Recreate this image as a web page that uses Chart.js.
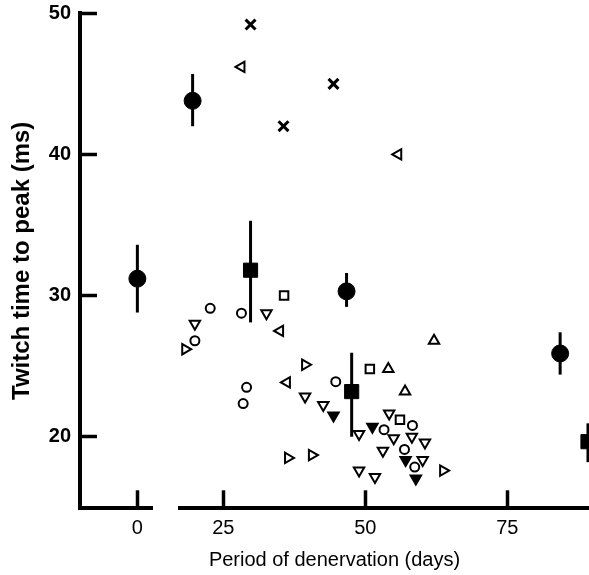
<!DOCTYPE html>
<html lang="en">
<head>
<meta charset="UTF-8">
<title>Twitch time to peak</title>
<script src="https://cdn.jsdelivr.net/npm/chart.js@4.4.7/dist/chart.umd.min.js"></script>
<style>
  * { margin: 0; padding: 0; }
  html, body { width: 589px; height: 575px; background: #fff; overflow: hidden; }
  canvas { display: block; }
</style>
</head>
<body>
<canvas id="chart" width="589" height="575"></canvas>
<script>
// axis ticks
const xTicksLeft = [0];
const xTicksRight = [25, 50, 75];
const yTicks = [20, 30, 40, 50];

// control (day 0) mean +/- bar
const controlDays = [0];
const controlMs = [31.2];
const controlLo = [28.8];
const controlHi = [33.6];

// filled circles, mean +/- bar
const meanCircleDays = [19.6, 46.7, 84.3];
const meanCircleMs = [43.8, 30.3, 25.9];
const meanCircleLo = [42.0, 29.2, 24.4];
const meanCircleHi = [45.7, 31.6, 27.4];

// filled squares, mean +/- bar
const meanSquareDays = [29.8, 47.6, 89.2];
const meanSquareMs = [31.8, 23.2, 19.65];
const meanSquareLo = [28.1, 20.0, 18.2];
const meanSquareHi = [35.3, 25.95, 20.95];

// single muscles
const crossDays = [29.8, 35.6, 44.4];
const crossMs = [49.2, 42.0, 45.0];

const leftTriDays = [28.2, 55.8, 35.0, 36.2];
const leftTriMs = [46.2, 40.0, 27.5, 23.85];

const rightTriDays = [18.3, 39.4, 36.4, 40.6, 63.7];
const rightTriMs = [26.2, 25.1, 18.5, 18.7, 17.6];

const openCircleDays = [22.7, 28.2, 20.0, 29.1, 28.5, 44.8, 58.3, 53.3, 56.9, 58.7];
const openCircleMs = [29.1, 28.75, 26.8, 23.5, 22.35, 23.9, 20.8, 20.5, 19.1, 17.85];

const downTriDays = [20.0, 32.6, 39.4, 42.6, 54.2, 48.9, 55.0, 58.2, 60.5, 53.1, 60.1, 48.9, 51.7];
const downTriMs = [28.0, 28.75, 22.85, 22.25, 21.65, 20.2, 19.9, 20.0, 19.6, 19.0, 18.35, 17.6, 17.15];

const filledDownDays = [44.4, 51.25, 57.1, 58.9];
const filledDownMs = [21.5, 20.7, 18.35, 17.05];

const openSquareDays = [35.7, 50.8, 56.1];
const openSquareMs = [30.0, 24.8, 21.2];

const upTriDays = [62.1, 54.05, 57.0];
const upTriMs = [26.8, 24.8, 23.2];

const FONT = "'Liberation Sans', Arial, Helvetica, sans-serif";
Chart.defaults.color = '#000';
Chart.defaults.font.family = FONT;

const pts = (xs, ys) => xs.map((x, i) => ({ x: x, y: ys[i] }));

function bars(xs, lo, hi, axis) {
  return xs.map((x, i) => ({
    type: 'scatter',
    data: [{ x: x, y: lo[i] }, { x: x, y: hi[i] }],
    showLine: true,
    borderColor: '#000',
    borderWidth: 3,
    pointRadius: 0,
    xAxisID: axis,
    clip: false,
  }));
}

function marks(xs, ys, style, radius, opts) {
  return Object.assign({
    type: 'scatter',
    data: pts(xs, ys),
    pointStyle: style,
    pointRadius: radius,
    pointHoverRadius: radius,
    pointBorderWidth: 2,
    pointBorderColor: '#000',
    pointBackgroundColor: '#fff',
    xAxisID: 'x',
    clip: false,
  }, opts || {});
}

const datasets = [
  ...bars(controlDays, controlLo, controlHi, 'x0'),
  ...bars(meanCircleDays, meanCircleLo, meanCircleHi, 'x'),
  ...bars(meanSquareDays, meanSquareLo, meanSquareHi, 'x'),
  marks(controlDays, controlMs, 'circle', 8.5, { xAxisID: 'x0', pointBackgroundColor: '#000', pointBorderWidth: 1 }),
  marks(meanCircleDays, meanCircleMs, 'circle', 8.5, { pointBackgroundColor: '#000', pointBorderWidth: 1 }),
  marks(meanSquareDays, meanSquareMs, 'rect', 10, { pointBackgroundColor: '#000', pointBorderWidth: 1 }),
  marks(crossDays, crossMs, 'crossRot', 7, { pointBorderWidth: 3 }),
  marks(leftTriDays, leftTriMs, 'triangle', 6, { pointRotation: 270 }),
  marks(rightTriDays, rightTriMs, 'triangle', 6, { pointRotation: 90 }),
  marks(openCircleDays, openCircleMs, 'circle', 4.5),
  marks(downTriDays, downTriMs, 'triangle', 6, { pointRotation: 180 }),
  marks(filledDownDays, filledDownMs, 'triangle', 6, { pointRotation: 180, pointBackgroundColor: '#000' }),
  marks(openSquareDays, openSquareMs, 'rect', 6),
  marks(upTriDays, upTriMs, 'triangle', 6),
];

const border = { display: true, color: '#000', width: 4 };
const inward = (len) => ({
  display: true, drawOnChartArea: false, drawTicks: true,
  tickLength: -len, tickColor: '#000', tickWidth: 3.5,
});
const fixTicks = (list) => (s) => { s.ticks = list.map(v => ({ value: v })); };
const fixX = (s) => { s.height = 36; s.paddingLeft = s.paddingRight = s.paddingTop = s.paddingBottom = 0; };
const xTickFont = { size: 20, family: FONT };

new Chart(document.getElementById('chart'), {
  type: 'scatter',
  data: { datasets: datasets },
  options: {
    responsive: false,
    animation: false,
    events: [],
    layout: { autoPadding: false, padding: { top: 13.3, left: 0, right: 0, bottom: 0 } },
    plugins: {
      legend: { display: false },
      tooltip: { enabled: false },
      title: {
        display: true,
        text: 'Period of denervation (days)',
        position: 'bottom',
        fullSize: false,
        align: 'center',
        color: '#000',
        font: { size: 20, weight: 'normal', family: FONT },
        padding: { top: 3.7, bottom: 3 },
      },
    },
    scales: {
      x0: {
        type: 'linear', position: 'bottom', stack: 'days', stackWeight: 72.7,
        min: -10.1, max: 2.7,
        border: border, grid: inward(18),
        afterBuildTicks: fixTicks(xTicksLeft),
        afterFit: fixX,
        ticks: { padding: 26, maxRotation: 0, minRotation: 0, autoSkip: false, font: xTickFont },
      },
      xGap: {
        type: 'linear', position: 'bottom', stack: 'days', stackWeight: 27.3,
        min: 0, max: 1,
        border: { display: false }, grid: { display: false }, ticks: { display: false },
        afterFit: fixX,
      },
      x: {
        type: 'linear', position: 'bottom', stack: 'days', stackWeight: 409,
        min: 17.38, max: 89.38,
        border: border, grid: inward(18),
        afterBuildTicks: fixTicks(xTicksRight),
        afterFit: fixX,
        ticks: { padding: 26, maxRotation: 0, minRotation: 0, autoSkip: false, font: xTickFont },
      },
      y: {
        type: 'linear', position: 'left',
        min: 14.93, max: 50,
        border: border, grid: inward(17),
        afterBuildTicks: fixTicks(yTicks),
        afterFit: (s) => { s.width = 80; s.paddingLeft = s.paddingRight = s.paddingTop = s.paddingBottom = 0; },
        ticks: { padding: 26, font: { size: 20, weight: 'bold', family: FONT } },
        title: {
          display: true,
          text: 'Twitch time to peak (ms)',
          font: { size: 24, weight: 'bold', family: FONT },
          padding: { top: 8, bottom: 0 },
        },
      },
    },
  },
});
</script>
</body>
</html>
